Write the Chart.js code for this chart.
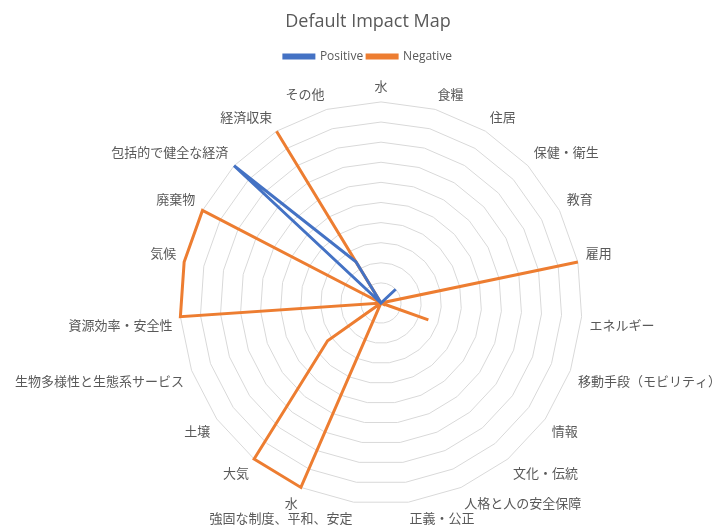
<!DOCTYPE html>
<html>
<head>
<meta charset="utf-8">
<script src="https://cdn.jsdelivr.net/npm/chart.js@4.4.0/dist/chart.umd.min.js"></script>
<style>
  html, body { margin: 0; padding: 0; background: #ffffff; overflow: hidden; }
  #wrap { width: 717px; height: 525px; position: relative; overflow: hidden; }
  #c { position: absolute; left: 0; top: 0; }
</style>
</head>
<body>
<div id="wrap"><canvas id="c" width="734" height="532"></canvas></div>
<script>
const categories = [
  "水", "食糧", "住居", "保健・衛生", "教育", "雇用", "エネルギー",
  "移動手段（モビリティ）", "情報", "文化・伝統", "人格と人の安全保障",
  "正義・公正", "強固な制度、平和、安定", "水", "大気", "土壌",
  "生物多様性と生態系サービス", "資源効率・安全性", "気候", "廃棄物",
  "包括的で健全な経済", "経済収束", "その他"
];
const positiveValues = [0, 0, 0, 1, 0, 0, 0, 0, 0, 0, 0, 0, 0, 0, 0, 0, 0, 0, 0, 0, 10, 2.4, 0];
const negativeValues = [0, 0, 0, 0, 0, 10, 0, 2.5, 0, 0, 0, 0, 0, 10, 10, 3.25, 0, 10, 10, 10, 0, 10, 0];
const seriesNames = ["Positive", "Negative"];
const chartTitle = "Default Impact Map";

const gray = "#595959";
new Chart(document.getElementById("c"), {
  type: "radar",
  data: {
    labels: categories,
    datasets: [
      { label: seriesNames[0], data: positiveValues, borderColor: "#4472C4", backgroundColor: "#4472C4",
        borderWidth: 3, pointRadius: 0, fill: false, tension: 0 },
      { label: seriesNames[1], data: negativeValues, borderColor: "#ED7D31", backgroundColor: "#ED7D31",
        borderWidth: 3, pointRadius: 0, fill: false, tension: 0 }
    ]
  },
  options: {
    responsive: false,
    animation: false,
    layout: { padding: { top: 0, left: 2, right: 0, bottom: 0 } },
    plugins: {
      title: { display: true, text: chartTitle, color: gray,
        font: { family: "'Open Sans', sans-serif", size: 18, weight: "normal" },
        padding: { top: 11, bottom: 14 } },
      legend: { position: "top",
        labels: { color: gray, boxWidth: 30, boxHeight: 3, padding: 4,
          font: { family: "'Open Sans', sans-serif", size: 12 } } },
      tooltip: { enabled: false }
    },
    scales: {
      r: {
        min: 0, max: 10,
        ticks: { display: false, stepSize: 1 },
        grid: { color: "#d9d9d9", lineWidth: 1 },
        angleLines: { display: false },
        pointLabels: { color: gray, padding: 8,
          font: { family: "'Noto Sans CJK JP', sans-serif", size: 13 } }
      }
    }
  }
});
</script>
</body>
</html>
